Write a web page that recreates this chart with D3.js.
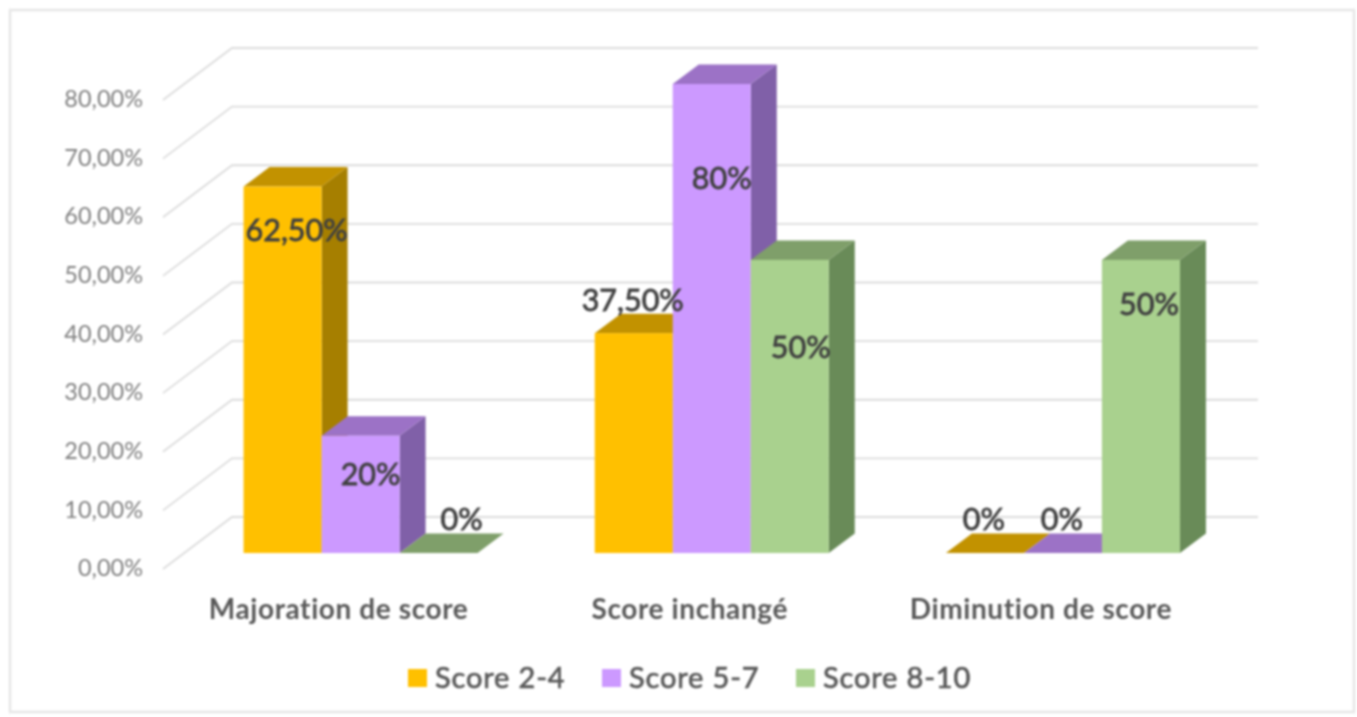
<!DOCTYPE html>
<html>
<head>
<meta charset="utf-8">
<script src="https://cdn.jsdelivr.net/npm/d3@7"></script>
<style>
  html, body { margin: 0; padding: 0; background: #fff; }
  svg { display: block; filter: blur(0.8px); }
  text { font-family: Lato, "Open Sans", sans-serif; font-variant-ligatures: none; }
</style>
</head>
<body>
<script>
// data
var categories = ["Majoration de score", "Score inchangé", "Diminution de score"];
var seriesNames = ["Score 2-4", "Score 5-7", "Score 8-10"];
var score24 = [62.5, 37.5, 0];
var score57 = [20, 80, 0];
var score810 = [0, 50, 50];
var valueLabels = [
  ["62,50%", "37,50%", "0%"],
  ["20%", "80%", "0%"],
  ["0%", "50%", "50%"]
];
var yTicks = [0, 10, 20, 30, 40, 50, 60, 70, 80];

// colours per series
var frontColor = ["#FFC000", "#CC99FF", "#A9D18E"];
var topColor = ["#C29200", "#9C72C6", "#7F9F6A"];
var sideColor = ["#A67F00", "#8060A8", "#698B58"];

// size of the canvas
var totalWidth = 1357;
var totalHeight = 717;

var svg = d3.select("body").append("svg")
    .attr("width", totalWidth)
    .attr("height", totalHeight);

// light frame round the chart
svg.append("rect")
    .attr("x", 10)
    .attr("y", 10)
    .attr("width", 1344)
    .attr("height", 702)
    .attr("fill", "#fff")
    .attr("stroke", "#e6e6e6")
    .attr("stroke-width", 2.5);

// scales
var yScale = d3.scaleLinear().domain([0, 80]).range([553, 84]);
var xGroup = d3.scaleBand().domain(d3.range(3)).range([185, 1238.5]);
var xBar = d3.scaleBand().domain(d3.range(3)).range([0, 234]);

// left edge of one bar
function barLeft(i, s) { return xGroup(i) + (xGroup.bandwidth() - 234) / 2 + xBar(s); }

// depth of the fake 3d
var depthX = 26;
var depthY = -19.5;
var wallX = 69;
var wallY = -52;
var wallFrontX = 163;
var wallBackEnd = 1258;

// floor position of the front of the wall is lower than the bars
function wallFront(v) { return yScale(v) + 16; }

// gridlines, going round the side wall
var grid = svg.append("g");
yTicks.forEach(function(t) {
  var back = wallFront(t) + wallY;
  grid.append("path")
      .attr("d", d3.line()([[wallFrontX, wallFront(t)], [wallFrontX + wallX, back], [wallBackEnd, back]]))
      .attr("fill", "none")
      .attr("stroke", "#dcdcdc")
      .attr("stroke-width", 1.8);
});

// tick labels
svg.append("g").selectAll("text")
    .data(yTicks)
    .enter()
    .append("text")
    .attr("x", 143)
    .attr("y", function(d) { return wallFront(d) - 1; })
    .attr("dy", ".35em")
    .attr("text-anchor", "end")
    .attr("font-size", 23.5)
    .attr("fill", "#808080")
    .text(function(d) { return d + ",00%"; });

// bars, left to right so every next bar covers the side of the one before
var seriesValues = [score24, score57, score810];
var bars = svg.append("g");
categories.forEach(function(c, i) {
  seriesValues.forEach(function(values, s) {
    var x0 = barLeft(i, s);
    var x1 = x0 + xBar.step();
    var yTop = yScale(values[i]);
    var yBase = yScale(0);
    var line = d3.line();

    bars.append("path")
        .attr("d", line([[x1, yTop], [x1 + depthX, yTop + depthY], [x1 + depthX, yBase + depthY], [x1, yBase]]) + "Z")
        .attr("fill", sideColor[s]);
    bars.append("path")
        .attr("d", line([[x0, yTop], [x0 + depthX, yTop + depthY], [x1 + depthX, yTop + depthY], [x1, yTop]]) + "Z")
        .attr("fill", topColor[s]);
    bars.append("rect")
        .attr("x", x0)
        .attr("y", yTop)
        .attr("width", xBar.step())
        .attr("height", yBase - yTop)
        .attr("fill", frontColor[s]);
  });
});

// the labels were moved by hand in the original, so each has its own nudge from the bar top
var labelNudgeX = [[14, -1, -1], [10, 10, -1], [23, 11, 8]];
var labelNudgeY = [[44, -33, -34], [39, 94, -34], [-34, 87, 44]];

var labels = svg.append("g");
categories.forEach(function(c, i) {
  seriesValues.forEach(function(values, s) {
    labels.append("text")
        .attr("x", barLeft(i, s) + xBar.step() / 2 + labelNudgeX[s][i])
        .attr("y", yScale(values[i]) + labelNudgeY[s][i])
        .attr("dy", ".35em")
        .attr("text-anchor", "middle")
        .attr("font-size", 30.5)
        .attr("fill", "#404040")
        .attr("stroke", "#404040")
        .attr("stroke-width", 0.8)
        .text(valueLabels[s][i]);
  });
});

// category labels
svg.append("g").selectAll("text")
    .data(categories)
    .enter()
    .append("text")
    .attr("x", function(d, i) { return xGroup(i) + xGroup.bandwidth() / 2 - 22; })
    .attr("y", 609)
    .attr("dy", ".35em")
    .attr("text-anchor", "middle")
    .attr("font-size", 28)
    .attr("font-weight", 700)
    .attr("letter-spacing", 0.6)
    .attr("fill", "#595959")
    .text(function(d) { return d; });

// legend
var legendX = [408, 602, 796];
var legend = svg.append("g").selectAll("g")
    .data(seriesNames)
    .enter()
    .append("g")
    .attr("transform", function(d, i) { return "translate(" + legendX[i] + ",669)"; });

legend.append("rect")
    .attr("width", 19)
    .attr("height", 18)
    .attr("fill", function(d, i) { return frontColor[i]; });

legend.append("text")
    .attr("x", 27)
    .attr("y", 9)
    .attr("dy", ".35em")
    .attr("font-size", 29)
    .attr("letter-spacing", 0.85)
    .attr("fill", "#595959")
    .attr("stroke", "#595959")
    .attr("stroke-width", 0.7)
    .text(function(d) { return d; });
</script>
</body>
</html>
